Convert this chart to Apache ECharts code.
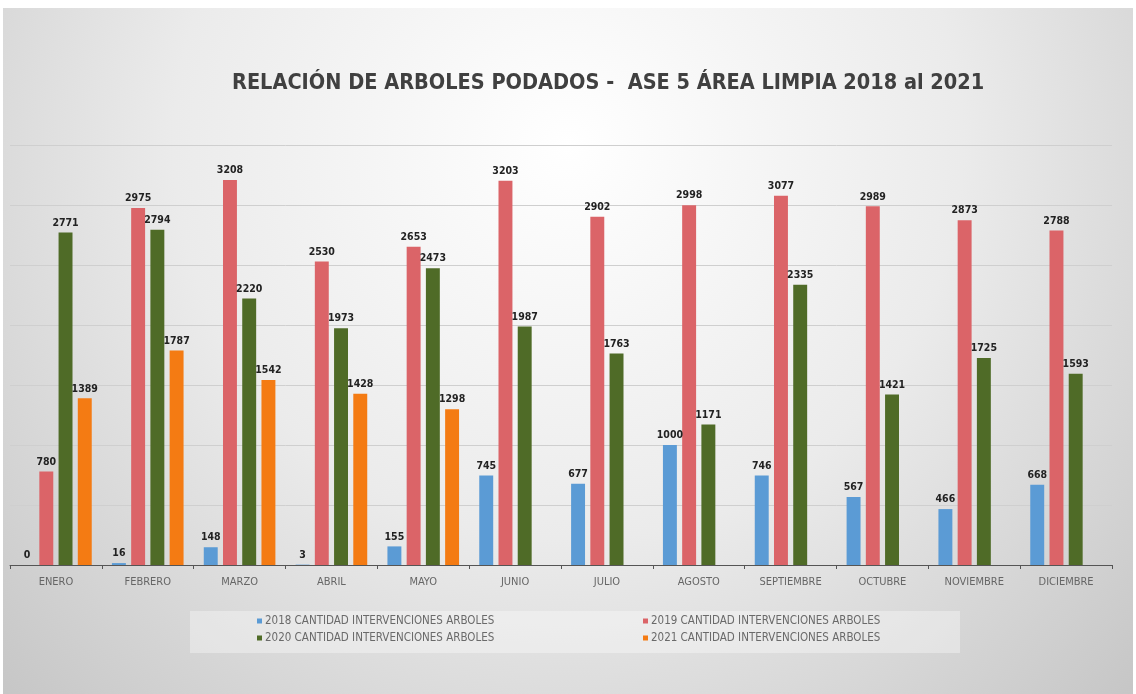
<!DOCTYPE html>
<html>
<head>
<meta charset="utf-8">
<style>
	html,body{margin:0;padding:0;background:#fff;}
	#chart{position:absolute;left:3px;top:8px;width:1130px;height:686px;}
</style>
<script src="https://cdn.jsdelivr.net/npm/echarts@6/dist/echarts.min.js"></script>
</head>
<body>
<div id="chart"></div>
<script>
// 数据
const meses  = ["ENERO","FEBRERO","MARZO","ABRIL","MAYO","JUNIO","JULIO","AGOSTO","SEPTIEMBRE","OCTUBRE","NOVIEMBRE","DICIEMBRE"];
const nombres = [
	"2018 CANTIDAD INTERVENCIONES ARBOLES",
	"2019 CANTIDAD INTERVENCIONES ARBOLES",
	"2020 CANTIDAD INTERVENCIONES ARBOLES",
	"2021 CANTIDAD INTERVENCIONES ARBOLES"
];
const datos2018 = [0, 16, 148, 3, 155, 745, 677, 1000, 746, 567, 466, 668];
const datos2019 = [780, 2975, 3208, 2530, 2653, 3203, 2902, 2998, 3077, 2989, 2873, 2788];
const datos2020 = [2771, 2794, 2220, 1973, 2473, 1987, 1763, 1171, 2335, 1421, 1725, 1593];
const datos2021 = [1389, 1787, 1542, 1428, 1298, null, null, null, null, null, null, null];
const colores   = ["#5B9BD5", "#DB6468", "#4F6B27", "#F47B13"];

const fuente = "'DejaVu Sans Condensed', 'Liberation Sans Narrow', sans-serif";

let grafico = echarts.init(document.getElementById('chart'));

// 生成柱状 series
function serie(indx, valores){
	return {
		name: nombres[indx],
		type: 'bar',
		data: valores,
		barGap: '38%',
		barCategoryGap: '22%',
		itemStyle: { color: colores[indx] },
		label: {
			show: true,
			position: 'top',
			distance: 4,
			color: '#222',
			fontWeight: 'bold',
			fontSize: 10.5,
			fontFamily: fuente
		}
	};
}

// 图例：每项单独定位
function leyenda(indx, left, top){
	return {
		left: left, top: top,
		data: [nombres[indx]],
		itemWidth: 5, itemHeight: 5,
		itemGap: 3,
		icon: 'rect',
		textStyle: { color: '#6a6a6a', fontSize: 11.5, fontFamily: fuente, padding: [0, 0, 0, -2] },
		padding: 0
	};
}

let option = {
	backgroundColor: {
		type: 'radial', x: 0.5, y: 0.2, r: 1.15,
		colorStops: [
			{ offset: 0, color: '#ffffff' },
			{ offset: 0.5, color: '#ebebeb' },
			{ offset: 1, color: '#c6c6c6' }
		]
	},
	animation: false,
	color: colores,
	title: {
		text: 'RELACIÓN DE ARBOLES PODADOS -  ASE 5 ÁREA LIMPIA 2018 al 2021',
		left: 224,
		top: 59,
		textStyle: { color: '#404040', fontSize: 21.5, fontWeight: 'bold', fontFamily: fuente }
	},
	graphic: [{
		type: 'rect',
		left: 187, top: 603,
		shape: { width: 770, height: 42 },
		style: { fill: 'rgba(255,255,255,0.35)' },
		z: -1
	}],
	legend: [
		leyenda(0, 254, 607),
		leyenda(1, 640, 607),
		leyenda(2, 254, 624),
		leyenda(3, 640, 624)
	],
	grid: { left: 7, right: 21, top: 137, bottom: 129, containLabel: false },
	xAxis: {
		type: 'category',
		data: meses,
		axisLine: { lineStyle: { color: '#555', width: 1 } },
		axisTick: { show: true, length: 4, lineStyle: { color: '#555' } },
		axisLabel: { interval: 0, color: '#666', fontSize: 11, margin: 12, fontFamily: fuente }
	},
	yAxis: {
		type: 'value',
		min: 0, max: 3500, interval: 500,
		axisLabel: { show: false },
		axisLine: { show: false },
		axisTick: { show: false },
		splitLine: { lineStyle: { color: '#cfcfcf', width: 1 } }
	},
	series: [
		serie(0, datos2018),
		serie(1, datos2019),
		serie(2, datos2020),
		serie(3, datos2021)
	]
};
grafico.setOption(option);
</script>
</body>
</html>
